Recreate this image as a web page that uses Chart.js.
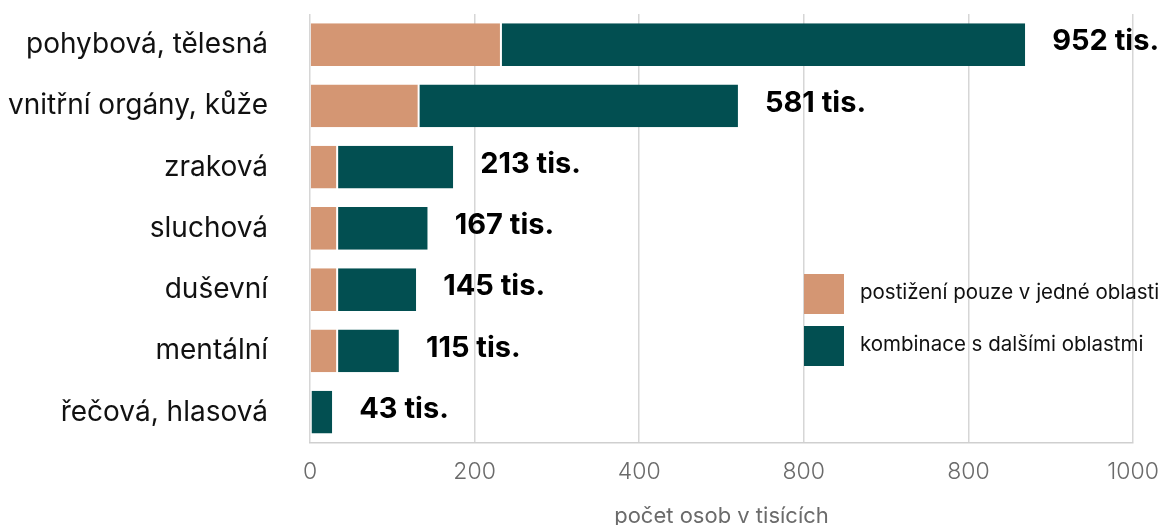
<!DOCTYPE html>
<html>
<head>
<meta charset="utf-8">
<script src="https://cdn.jsdelivr.net/npm/chart.js@4/dist/chart.umd.min.js"></script>
<style>
html,body{margin:0;padding:0;background:#fff;}
#wrap{width:1166px;height:525px;}
</style>
</head>
<body>
<div id="wrap"><canvas id="c" width="1166" height="525"></canvas></div>
<script>
const categories = ['pohybová, tělesná','vnitřní orgány, kůže','zraková','sluchová','duševní','mentální','řečová, hlasová'];
const singleArea = [232, 132, 33, 33, 33, 33, 0];
const combined = [637, 388, 141, 110, 96, 75, 27];
const valueLabels = ['952 tis.','581 tis.','213 tis.','167 tis.','145 tis.','115 tis.','43 tis.'];
const tickLabels = ['0','200','400','800','800','1000'];
const seriesNames = ['postižení pouze v jedné oblasti','kombinace s dalšími oblastmi'];
const colors = ['#D49673','#024F51'];
const FONT = 'Inter, "DejaVu Sans", sans-serif';

const overlay = {
  id: 'overlay',
  afterDatasetsDraw(chart) {
    const ctx = chart.ctx, xs = chart.scales.x, ys = chart.scales.y;
    ctx.save();
    ctx.font = 'bold 29px ' + FONT;
    ctx.fillStyle = '#000';
    ctx.textBaseline = 'middle';
    ctx.textAlign = 'left';
    categories.forEach((c, i) => {
      const total = singleArea[i] + combined[i];
      ctx.fillText(valueLabels[i], xs.getPixelForValue(total) + 27, ys.getPixelForValue(i) - 3);
    });
    // legend
    const lx = 804, ly = [274, 326];
    ctx.font = '20.5px ' + FONT;
    seriesNames.forEach((n, i) => {
      ctx.fillStyle = colors[i];
      ctx.fillRect(lx, ly[i], 40, 40);
      ctx.fillStyle = '#111';
      ctx.fillText(n, lx + 56, ly[i] + 19);
    });
    ctx.restore();
  }
};

new Chart(document.getElementById('c'), {
  type: 'bar',
  data: {
    labels: categories,
    datasets: [
      {label: seriesNames[0], data: singleArea, backgroundColor: colors[0], borderColor: '#fff', borderWidth: {right: 1}, borderSkipped: false},
      {label: seriesNames[1], data: combined, backgroundColor: colors[1], borderColor: '#fff', borderWidth: {left: 1}, borderSkipped: false}
    ]
  },
  options: {
    indexAxis: 'y',
    responsive: false,
    animation: false,
    categoryPercentage: 1,
    barPercentage: 0.7,
    layout: {padding: {top: 14, right: 33, bottom: 0, left: 0}},
    plugins: {legend: {display: false}, tooltip: {enabled: false}},
    scales: {
      x: {
        stacked: true,
        min: 0, max: 1000,
        ticks: {stepSize: 200, color: '#6b6b6b', font: {family: FONT, size: 23, weight: '300'}, padding: 15,
          callback: (v, i) => tickLabels[i]},
        grid: {color: '#d6d6d6', lineWidth: 1.5, drawTicks: false},
        border: {color: '#cfcfcf', width: 1.5},
        title: {display: true, text: 'počet osob v tisících', color: '#6b6b6b', font: {family: FONT, size: 22, lineHeight: 0.8}, padding: {top: 7, bottom: 0}},
        afterFit(scale) { scale.paddingLeft = 0; scale.paddingRight = 0; }
      },
      y: {
        stacked: true,
        grid: {display: false},
        border: {display: false},
        ticks: {color: '#111', font: {family: FONT, size: 28}, padding: 34},
        afterFit(scale) { scale.paddingTop = 0; scale.paddingBottom = 0; scale.width = 310; }
      }
    }
  },
  plugins: [overlay]
});
</script>
</body>
</html>
